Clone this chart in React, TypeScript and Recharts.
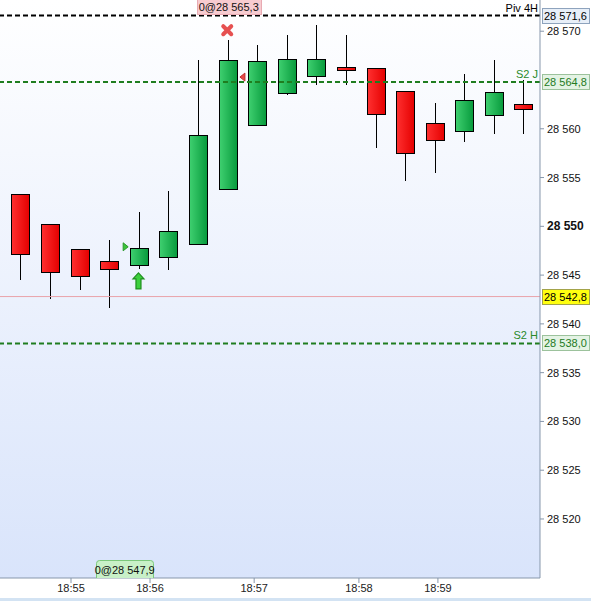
import React from "react";
import {
  ComposedChart,
  Bar,
  Scatter,
  XAxis,
  YAxis,
  CartesianGrid,
  ReferenceLine,
  ReferenceDot,
} from "recharts";

// candles (tick based, evenly spaced)
const candleOpen = [28553.3, 28550.2, 28547.7, 28546.4, 28546.0, 28546.9, 28548.2, 28553.8, 28560.4, 28563.7, 28565.4, 28566.3, 28566.2, 28563.9, 28560.6, 28559.8, 28561.4, 28562.5];
const candleHigh = [28553.3, 28550.2, 28547.7, 28548.6, 28551.5, 28553.6, 28567.1, 28569.1, 28568.6, 28569.6, 28570.6, 28569.6, 28566.2, 28563.9, 28562.6, 28565.6, 28567.1, 28565.0];
const candleLow = [28544.5, 28542.6, 28543.5, 28541.6, 28545.6, 28545.5, 28548.2, 28553.8, 28560.4, 28563.5, 28564.5, 28564.5, 28558.0, 28554.6, 28555.5, 28558.6, 28559.5, 28559.5];
const candleClose = [28547.2, 28545.3, 28544.9, 28545.6, 28547.8, 28549.5, 28559.4, 28567.1, 28566.9, 28567.2, 28567.2, 28566.0, 28561.5, 28557.5, 28558.9, 28562.9, 28563.8, 28562.0];

// time labels sit between candles
const timeTickPos = [1.72, 4.39, 7.91, 11.45, 14.12];
const timeLabels = ["18:55", "18:56", "18:57", "18:58", "18:59"];

// 28 565 is hidden behind the S2 J price box
const priceTicks = [28520, 28525, 28530, 28535, 28540, 28545, 28550, 28555, 28560, 28570];
const boldTick = 28550;

// horizontal levels
const levelNames = ["Piv 4H", "S2 J", "S2 H", ""];
const levelPrices = [28571.6, 28564.8, 28538.0, 28542.8];
const levelKinds = ["pivot", "support", "support", "last"];

// trade markers
const entryPos = 3.55;
const entryPrice = 28547.9;
const exitPos = 7.53;
const exitPrice = 28565.3;
const buySignal = [{ i: 4, price: 28544.4 }];
const exitSignal = [{ i: 7, price: 28570.1 }];
const entryLabelPos = 3.5;
const exitLabelPos = 7.05;

const xDomain = [-0.68, 17.57];
const yDomain = [28513.95, 28573.2];

const candles = candleOpen.map((open, i) => ({
  i,
  open,
  high: candleHigh[i],
  low: candleLow[i],
  close: candleClose[i],
}));

const FONT = "'Liberation Sans', Arial, sans-serif";
const BODY_W = 18;

const fmt = (v: number, d = 0) => {
  const [a, b] = v.toFixed(d).split(".");
  const int = a.replace(/\B(?=(\d{3})+(?!\d))/g, " ");
  return b ? `${int},${b}` : int;
};

const Candle = (props: any) => {
  const { x, y, width, height, payload } = props;
  const { open, high, low, close } = payload;
  const top0 = Math.min(y, y + height);
  const h = Math.abs(height);
  const range = high - low || 1;
  const py = (v: number) => top0 + ((high - v) / range) * h;
  const bTop = Math.round(py(Math.max(open, close)));
  const bBot = Math.round(py(Math.min(open, close)));
  const mid = Math.round(x + width / 2);
  const up = close >= open;
  return (
    <g>
      <line x1={mid + 0.5} x2={mid + 0.5} y1={Math.round(top0)} y2={Math.round(top0 + h)} stroke="#000" strokeWidth={1} />
      <rect
        x={mid - BODY_W / 2 + 0.5}
        y={bTop + 0.5}
        width={BODY_W}
        height={Math.max(bBot - bTop, 2)}
        fill={up ? "url(#gUp)" : "url(#gDown)"}
        stroke="#000"
        strokeWidth={1}
      />
    </g>
  );
};

const LevelLabel = (props: any) => {
  const { viewBox, name, price, kind } = props;
  const { x, y, width } = viewBox;
  const right = x + width;
  const green = kind === "support";
  const fill = kind === "pivot" ? "#e8eff8" : kind === "last" ? "#ffff10" : "#e4f3e4";
  const stroke = kind === "pivot" ? "#8ea3bd" : kind === "last" ? "#a3a34a" : "#9cc29c";
  return (
    <g>
      {name ? (
        <text x={right - 2} y={y - 4} textAnchor="end" fontSize={11} fontFamily={FONT} fill={green ? "#2a8a2a" : "#000"}>
          {name}
        </text>
      ) : null}
      <rect x={right + 2.5} y={Math.round(y) - 7.5} width={47} height={15} fill={fill} stroke={stroke} />
      <text x={right + 4} y={Math.round(y) + 4} fontSize={11} fontFamily={FONT} fill={green ? "#237a23" : "#000"}>
        {fmt(price, 1)}
      </text>
    </g>
  );
};

const YTick = (props: any) => {
  const { x, y, payload } = props;
  const bold = payload.value === boldTick;
  return (
    <text
      x={x}
      y={y + 4}
      fontSize={bold ? 12 : 11}
      fontWeight={bold ? "bold" : "normal"}
      fontFamily={FONT}
      fill="#111"
    >
      {fmt(payload.value)}
    </text>
  );
};

const XTick = (props: any) => {
  const { x, y, payload } = props;
  const idx = timeTickPos.indexOf(payload.value);
  return (
    <text x={x} y={y + 9} textAnchor="middle" fontSize={11} fontFamily={FONT} fill="#222">
      {timeLabels[idx]}
    </text>
  );
};

const EntryTriangle = (props: any) => {
  const { cx, cy } = props;
  return <path d={`M${cx - 2},${cy - 4} L${cx + 3},${cy} L${cx - 2},${cy + 4} Z`} fill="#3cc43c" stroke="#2a9a2a" strokeWidth={1} />;
};

const ExitTriangle = (props: any) => {
  const { cx, cy } = props;
  return <path d={`M${cx + 2},${cy - 4} L${cx - 3},${cy} L${cx + 2},${cy + 4} Z`} fill="#e84848" stroke="#c03030" strokeWidth={1} />;
};

const UpArrow = (props: any) => {
  const { cx, cy } = props;
  const d = `M${cx},${cy - 8} L${cx + 5.5},${cy - 2} L${cx + 2.5},${cy - 2} L${cx + 2.5},${cy + 8} L${cx - 2.5},${cy + 8} L${cx - 2.5},${cy - 2} L${cx - 5.5},${cy - 2} Z`;
  return <path d={d} fill="#3dd03d" stroke="#1e8f1e" strokeWidth={1.2} />;
};

const CrossMark = (props: any) => {
  const { cx, cy } = props;
  return (
    <g stroke="#e65050" strokeWidth={4} strokeLinecap="round">
      <line x1={cx - 4} y1={cy - 4} x2={cx + 4} y2={cy + 4} />
      <line x1={cx + 4} y1={cy - 4} x2={cx - 4} y2={cy + 4} />
    </g>
  );
};

const TopTag = (props: any) => {
  const { cx, cy } = props;
  const text = `0@${fmt(exitPrice, 1)}`;
  return (
    <g>
      <rect x={Math.round(cx) - 31.5} y={Math.round(cy) - 0.5} width={64} height={15} fill="#f7cbd0" stroke="#e8aab2" />
      <text x={cx} y={cy + 11} textAnchor="middle" fontSize={11} fontFamily={FONT} fill="#111">
        {text}
      </text>
    </g>
  );
};

const BottomTag = (props: any) => {
  const { cx, cy } = props;
  const text = `0@${fmt(entryPrice, 1)}`;
  const l = Math.round(cx) - 27.5;
  const t = Math.round(cy) - 17.5;
  return (
    <g>
      <path d={`M${l},${t + 17.5} L${l},${t + 3} Q${l},${t} ${l + 3},${t} L${l + 54},${t} Q${l + 57},${t} ${l + 57},${t + 3} L${l + 57},${t + 17.5}`} fill="#c8f0c8" stroke="#7cc87c" />
      <text x={cx + 1} y={cy - 4} textAnchor="middle" fontSize={11} fontFamily={FONT} fill="#111">
        {text}
      </text>
    </g>
  );
};

export default function App() {
  return (
    <div style={{ position: "absolute", left: 0, top: 0, width: 591, height: 601, background: "#fff" }}>
      <ComposedChart
        width={591}
        height={598}
        data={candles}
        margin={{ top: 0, right: 0, bottom: 0, left: 0 }}
      >
        <defs>
          <linearGradient id="bgGrad" x1="0" y1="0" x2="0" y2="1">
            <stop offset="0%" stopColor="#ffffff" />
            <stop offset="100%" stopColor="#d9e4fb" />
          </linearGradient>
          <linearGradient id="gUp" x1="0" y1="0" x2="1" y2="0">
            <stop offset="0%" stopColor="#3fd070" />
            <stop offset="100%" stopColor="#079a3c" />
          </linearGradient>
          <linearGradient id="gDown" x1="0" y1="0" x2="1" y2="0">
            <stop offset="0%" stopColor="#ff3030" />
            <stop offset="100%" stopColor="#e40000" />
          </linearGradient>
        </defs>
        <CartesianGrid fill="url(#bgGrad)" horizontal={false} vertical={false} stroke="none" />
        <XAxis
          type="number"
          dataKey="i"
          domain={xDomain}
          allowDataOverflow
          ticks={timeTickPos}
          interval={0}
          height={20}
          tickSize={5}
          tickMargin={0}
          tick={<XTick />}
          stroke="#8797ab"
        />
        <YAxis
          orientation="right"
          type="number"
          domain={yDomain}
          allowDataOverflow
          ticks={priceTicks}
          interval={0}
          width={51}
          tickSize={4}
          tickMargin={3}
          tick={<YTick />}
          stroke="#8797ab"
        />
        {levelPrices.map((p, k) => (
          <ReferenceLine
            key={k}
            y={p}
            stroke={levelKinds[k] === "pivot" ? "#000" : levelKinds[k] === "last" ? "#e9a3ab" : "#1f7d1f"}
            strokeWidth={levelKinds[k] === "last" ? 1 : 2}
            strokeDasharray={levelKinds[k] === "last" ? undefined : "5 3"}
            label={(lp: any) => (
              <LevelLabel viewBox={lp.viewBox} name={levelNames[k]} price={p} kind={levelKinds[k]} />
            )}
          />
        ))}
        <Bar
          dataKey={(d: any) => [d.low, d.high]}
          barSize={18}
          shape={<Candle />}
          isAnimationActive={false}
        />
        <Scatter data={[{ i: entryPos, price: entryPrice }]} dataKey="price" shape={<EntryTriangle />} isAnimationActive={false} />
        <Scatter data={[{ i: exitPos, price: exitPrice }]} dataKey="price" shape={<ExitTriangle />} isAnimationActive={false} />
        <Scatter data={buySignal} dataKey="price" shape={<UpArrow />} isAnimationActive={false} />
        <Scatter data={exitSignal} dataKey="price" shape={<CrossMark />} isAnimationActive={false} />
        <ReferenceDot x={exitLabelPos} y={yDomain[1]} ifOverflow="visible" shape={<TopTag />} />
        <ReferenceDot x={entryLabelPos} y={yDomain[0]} ifOverflow="visible" shape={<BottomTag />} />
      </ComposedChart>
      <div style={{ position: "absolute", left: 0, top: 598, width: 591, height: 3, background: "#d3e3f3" }} />
    </div>
  );
}
